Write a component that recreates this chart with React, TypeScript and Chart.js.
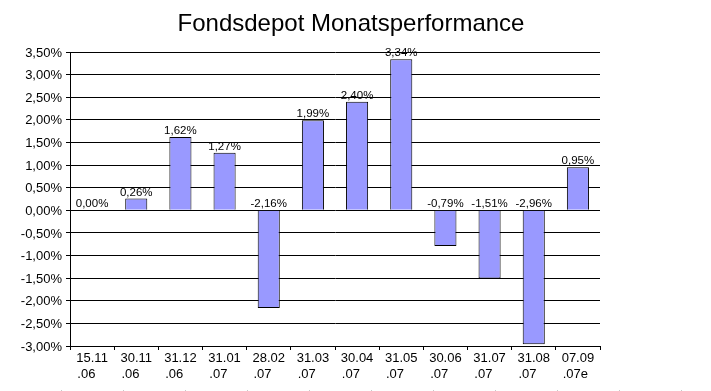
import React, { useEffect, useRef } from "react";
import Chart from "chart.js/auto";

const TITLE = "Fondsdepot Monatsperformance";
const categoryLines: string[][] = [
  ["15.11", ".06"],
  ["30.11", ".06"],
  ["31.12", ".06"],
  ["31.01", ".07"],
  ["28.02", ".07"],
  ["31.03", ".07"],
  ["30.04", ".07"],
  ["31.05", ".07"],
  ["30.06", ".07"],
  ["31.07", ".07"],
  ["31.08", ".07"],
  ["07.09", ".07e"],
];
const performance: number[] = [0.0, 0.26, 1.62, 1.27, -2.16, 1.99, 2.4, 3.34, -0.79, -1.51, -2.96, 0.95];
const yMin = -3.0;
const yMax = 3.5;
const yStep = 0.5;

const FONT = '"Liberation Sans", Arial, sans-serif';
const fmt = (v: number) => v.toFixed(2).replace(".", ",") + "%";

const overlayPlugin = {
  id: "overlay",
  afterDraw(chart: any) {
    const ctx = chart.ctx as CanvasRenderingContext2D;
    const x = chart.scales.x;
    const y = chart.scales.y;
    ctx.save();
    // title
    ctx.fillStyle = "#000";
    ctx.font = `24px ${FONT}`;
    ctx.textAlign = "center";
    ctx.textBaseline = "alphabetic";
    ctx.fillText(TITLE, 351, 31);

    // data labels
    ctx.font = `11.5px ${FONT}`;
    const meta = chart.getDatasetMeta(0);
    performance.forEach((v, i) => {
      const el = meta.data[i];
      const yTop = y.getPixelForValue(Math.max(v, 0));
      ctx.textAlign = "center";
      ctx.fillText(fmt(v), el.x, yTop - 3);
    });

    // category labels (two lines, second left-aligned to the first)
    ctx.font = `13px ${FONT}`;
    categoryLines.forEach((lines, i) => {
      const cx = x.getPixelForValue(i);
      const w1 = ctx.measureText(lines[0]).width;
      ctx.textAlign = "center";
      ctx.fillText(lines[0], cx, chart.chartArea.bottom + 16);
      ctx.textAlign = "left";
      ctx.fillText(lines[1], cx - w1 / 2 + 1, chart.chartArea.bottom + 32);
    });

    // faint dotted page line at bottom
    ctx.strokeStyle = "#c8c8c8";
    ctx.lineWidth = 1;
    ctx.setLineDash([1, 61]);
    ctx.beginPath();
    ctx.moveTo(61, chart.height - 0.5);
    ctx.lineTo(chart.width, chart.height - 0.5);
    ctx.stroke();
    ctx.restore();
  },
};

export default function App() {
  const ref = useRef<HTMLCanvasElement | null>(null);
  useEffect(() => {
    document.body.style.margin = "0";
    const canvas = ref.current!;
    const chart = new Chart(canvas, {
      type: "bar",
      data: {
        labels: categoryLines.map((l) => l.join("")),
        datasets: [
          {
            data: performance,
            backgroundColor: "#9999ff",
            borderColor: "#000000",
            borderWidth: 1,
            barPercentage: 0.5,
            categoryPercentage: 1,
          },
        ],
      },
      options: {
        animation: false,
        responsive: false,
        devicePixelRatio: 1,
        layout: { padding: { left: 0, top: 52, right: 111, bottom: 0 } },
        plugins: { legend: { display: false }, title: { display: false }, tooltip: { enabled: false } },
        scales: {
          x: {
            afterFit: (s: any) => {
              s.height = 45;
            },
            grid: {
              offset: true,
              drawOnChartArea: false,
              drawTicks: true,
              tickLength: 4,
              tickColor: "#000",
              color: "#000",
            },
            border: { display: true, color: "#000" },
            ticks: { display: false },
          },
          y: {
            min: yMin,
            max: yMax,
            afterFit: (s: any) => {
              s.width = 70;
            },
            grid: { color: "#000", tickColor: "#000", tickLength: 4, drawTicks: true },
            border: { display: true, color: "#000" },
            ticks: {
              stepSize: yStep,
              color: "#000",
              padding: 4,
              labelOffset: 1,
              font: { family: FONT, size: 13 },
              callback: (v: any) => fmt(Number(v)),
            },
          },
        },
      },
      plugins: [overlayPlugin],
    });
    return () => chart.destroy();
  }, []);
  return <canvas ref={ref} width={711} height={391} style={{ display: "block", width: 711, height: 391 }} />;
}
